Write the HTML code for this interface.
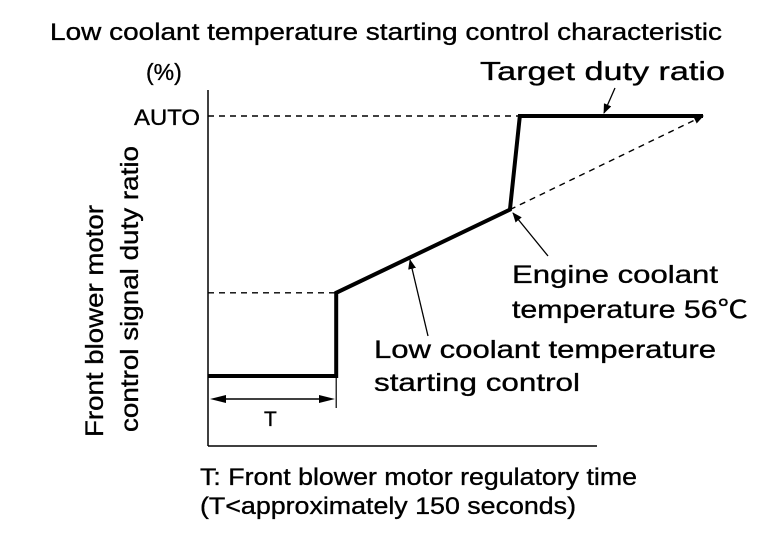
<!DOCTYPE html>
<html><head><meta charset="utf-8"><style>html,body{margin:0;padding:0;background:#fff}svg{display:block}text{font-family:"Liberation Sans","Noto Sans CJK JP",sans-serif;fill:#000;stroke:#000;stroke-width:0.35}</style></head>
<body>
<svg id="chart" width="768" height="544" viewBox="0 0 768 544" xmlns="http://www.w3.org/2000/svg">
<defs>
<marker id="ah" markerWidth="10" markerHeight="8" refX="9" refY="4" orient="auto" markerUnits="userSpaceOnUse"><path d="M0,0 L10,4 L0,8 Z" fill="#000"/></marker>
</defs>
<text x="50" y="40" font-size="24" textLength="672" lengthAdjust="spacingAndGlyphs">Low coolant temperature starting control characteristic</text>
<text x="146" y="80" font-size="23">(%)</text>
<text x="480" y="80" font-size="26" textLength="245" lengthAdjust="spacingAndGlyphs">Target duty ratio</text>
<text x="134" y="125" font-size="22" textLength="66" lengthAdjust="spacingAndGlyphs">AUTO</text>
<g font-size="25">
<text x="0" y="0" transform="translate(103,437) rotate(-90)" textLength="232" lengthAdjust="spacingAndGlyphs">Front blower motor</text>
<text x="0" y="0" transform="translate(138,432) rotate(-90)" textLength="286" lengthAdjust="spacingAndGlyphs">control signal duty ratio</text>
</g>
<g id="plot"></g>
<text x="512" y="283" font-size="25" textLength="206" lengthAdjust="spacingAndGlyphs">Engine coolant</text>
<text x="512" y="318" font-size="25" textLength="236" lengthAdjust="spacingAndGlyphs">temperature 56℃</text>
<text x="374" y="358" font-size="25" textLength="342" lengthAdjust="spacingAndGlyphs">Low coolant temperature</text>
<text x="374" y="391" font-size="25" textLength="206" lengthAdjust="spacingAndGlyphs">starting control</text>
<text x="264" y="426" font-size="21">T</text>
<text x="200" y="485" font-size="24" textLength="437" lengthAdjust="spacingAndGlyphs">T: Front blower motor regulatory time</text>
<text x="200" y="514" font-size="24" textLength="376" lengthAdjust="spacingAndGlyphs">(T&lt;approximately 150 seconds)</text>
</svg>
<script>
// normalized data: x in 0..1 time, y in 0..1 duty (AUTO=1)
const stepX = [0, 0.259, 0.259, 0.61, 0.63, 1.0];
const stepY = [0.0, 0.0, 0.32, 0.64, 1.0, 1.0];
const dashLowY = 0.32;
const autoY = 1.0;
const breakIdx = 3;
const x0=208, x1=703, yB=376, yT=116;
const sx=v=>x0+v*(x1-x0), sy=v=>yB-v*(yB-yT);
const g=document.getElementById('plot'), NS='http://www.w3.org/2000/svg';
function mk(tag,attrs,name){const e=document.createElementNS(NS,tag);for(const k in attrs)e.setAttribute(k,attrs[k]);


g.appendChild(e);return e;}
mk('line',{x1:208,y1:90,x2:208,y2:446,stroke:'#000','stroke-width':1.5},'y-axis');
mk('line',{x1:208,y1:446,x2:597,y2:446,stroke:'#000','stroke-width':1.5},'x-axis');
mk('line',{x1:208,y1:sy(autoY),x2:sx(stepX[4]),y2:sy(autoY),stroke:'#000','stroke-width':1.4,'stroke-dasharray':'6,5'},'auto-dashed-line');
mk('line',{x1:208,y1:sy(dashLowY),x2:sx(stepX[2]),y2:sy(dashLowY),stroke:'#000','stroke-width':1.4,'stroke-dasharray':'6,5'},'low-dashed-line');
mk('line',{x1:sx(stepX[breakIdx]),y1:sy(stepY[breakIdx]),x2:sx(1),y2:sy(autoY),stroke:'#000','stroke-width':1.4,'stroke-dasharray':'6,5','marker-end':'url(#ah)'},'extrapolated-dashed-line');
mk('polyline',{points:stepX.map((v,i)=>sx(v)+','+sy(stepY[i])).join(' '),fill:'none',stroke:'#000','stroke-width':4,'stroke-linejoin':'miter'},'target-duty-line');
mk('line',{x1:sx(stepX[1]),y1:sy(0),x2:sx(stepX[1]),y2:408,stroke:'#000','stroke-width':1.2},'t-end-tick');
mk('line',{x1:222,y1:399,x2:322,y2:399,stroke:'#000','stroke-width':1.5},'t-span');
mk('path',{d:'M210,399 L226,395 L226,403 Z',fill:'#000'},'t-arrow-left');
mk('path',{d:'M335,399 L319,395 L319,403 Z',fill:'#000'},'t-arrow-right');
mk('line',{x1:615,y1:88,x2:604,y2:113,stroke:'#000','stroke-width':1.3,'marker-end':'url(#ah)'},'target-pointer');
mk('line',{x1:548,y1:256,x2:513,y2:213,stroke:'#000','stroke-width':1.3,'marker-end':'url(#ah)'},'engine-pointer');
mk('line',{x1:428,y1:336,x2:410,y2:260,stroke:'#000','stroke-width':1.3,'marker-end':'url(#ah)'},'low-coolant-pointer');
</script>
</body></html>
